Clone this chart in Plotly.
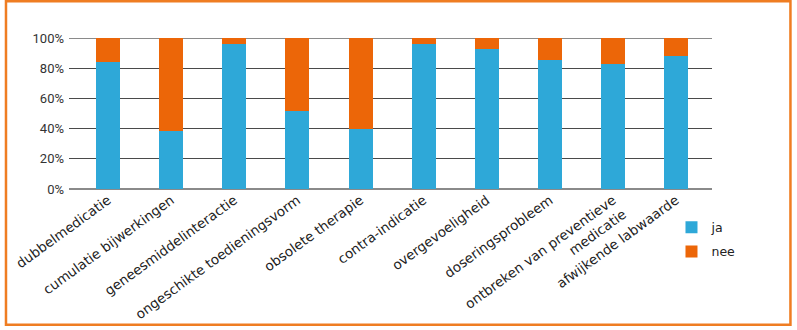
import plotly.graph_objects as go

# Medication-review problem categories
categories = [
    "dubbelmedicatie",
    "cumulatie bijwerkingen",
    "geneesmiddelinteractie",
    "ongeschikte toedieningsvorm",
    "obsolete therapie",
    "contra-indicatie",
    "overgevoeligheid",
    "doseringsprobleem",
    "ontbreken van preventieve<br>medicatie",
    "afwijkende labwaarde",
]

# Share (%) per answer
ja = [84, 38.5, 96, 51.5, 40, 96, 92.8, 85.4, 82.9, 88.4]
nee = [round(100 - v, 1) for v in ja]

y_ticks = [0, 20, 40, 60, 80, 100]
y_tick_labels = ["0%", "20%", "40%", "60%", "80%", "100%"]

BLUE = "#2EA8D8"
ORANGE = "#EC6608"
FRAME = "#EF7D22"

x_idx = list(range(len(categories)))

fig = go.Figure()
fig.add_trace(go.Bar(
    x=x_idx, y=ja, name="ja", marker=dict(color=BLUE, line=dict(width=0)),
    width=0.38, legendgroup="a",
))
fig.add_trace(go.Bar(
    x=x_idx, y=nee, name="nee", marker=dict(color=ORANGE, line=dict(width=0)),
    width=0.38, legendgroup="b",
))

fig.update_layout(
    barmode="stack",
    width=797,
    height=330,
    margin=dict(l=69, r=85, t=38, b=141, autoexpand=False),
    paper_bgcolor="white",
    plot_bgcolor="white",
    font=dict(family="DejaVu Sans", size=12, color="#222"),
    xaxis=dict(
        tickmode="array",
        tickvals=x_idx,
        ticktext=categories,
        tickangle=-36,
        range=[-0.62, 9.57],
        showgrid=False,
        showline=False,
        ticks="",
        automargin=False,
        tickfont=dict(family="DejaVu Sans", size=13.5, color="#222"),
    ),
    yaxis=dict(
        range=[0, 100],
        tickmode="array",
        tickvals=y_ticks,
        ticktext=y_tick_labels,
        showgrid=True,
        gridcolor="#4a4a4a",
        gridwidth=1,
        zeroline=True,
        zerolinecolor="#8a8a8a",
        zerolinewidth=2,
        showline=False,
        ticks="",
        automargin=False,
        ticklabelstandoff=4,
        tickfont=dict(family="Roboto", size=13, color="#333"),
    ),
    legend=dict(
        x=0.937,
        y=-0.157,
        xanchor="left",
        yanchor="top",
        traceorder="grouped",
        tracegroupgap=5,
        font=dict(family="DejaVu Sans", size=12.5, color="#222"),
        bgcolor="rgba(0,0,0,0)",
    ),
    shapes=[
        # orange frame around the whole chart
        dict(
            type="rect", xref="paper", yref="paper",
            x0=-0.098, x1=1.122, y0=-0.899, y1=1.2426,
            line=dict(color=FRAME, width=2.5),
            fillcolor="rgba(0,0,0,0)",
            layer="below",
        ),
        # light top rule at 100%
        dict(
            type="line", xref="paper", yref="y",
            x0=0, x1=1, y0=100, y1=100,
            line=dict(color="#8a8a8a", width=2),
            layer="below",
        ),
    ],
)

fig.write_html("out.html")
